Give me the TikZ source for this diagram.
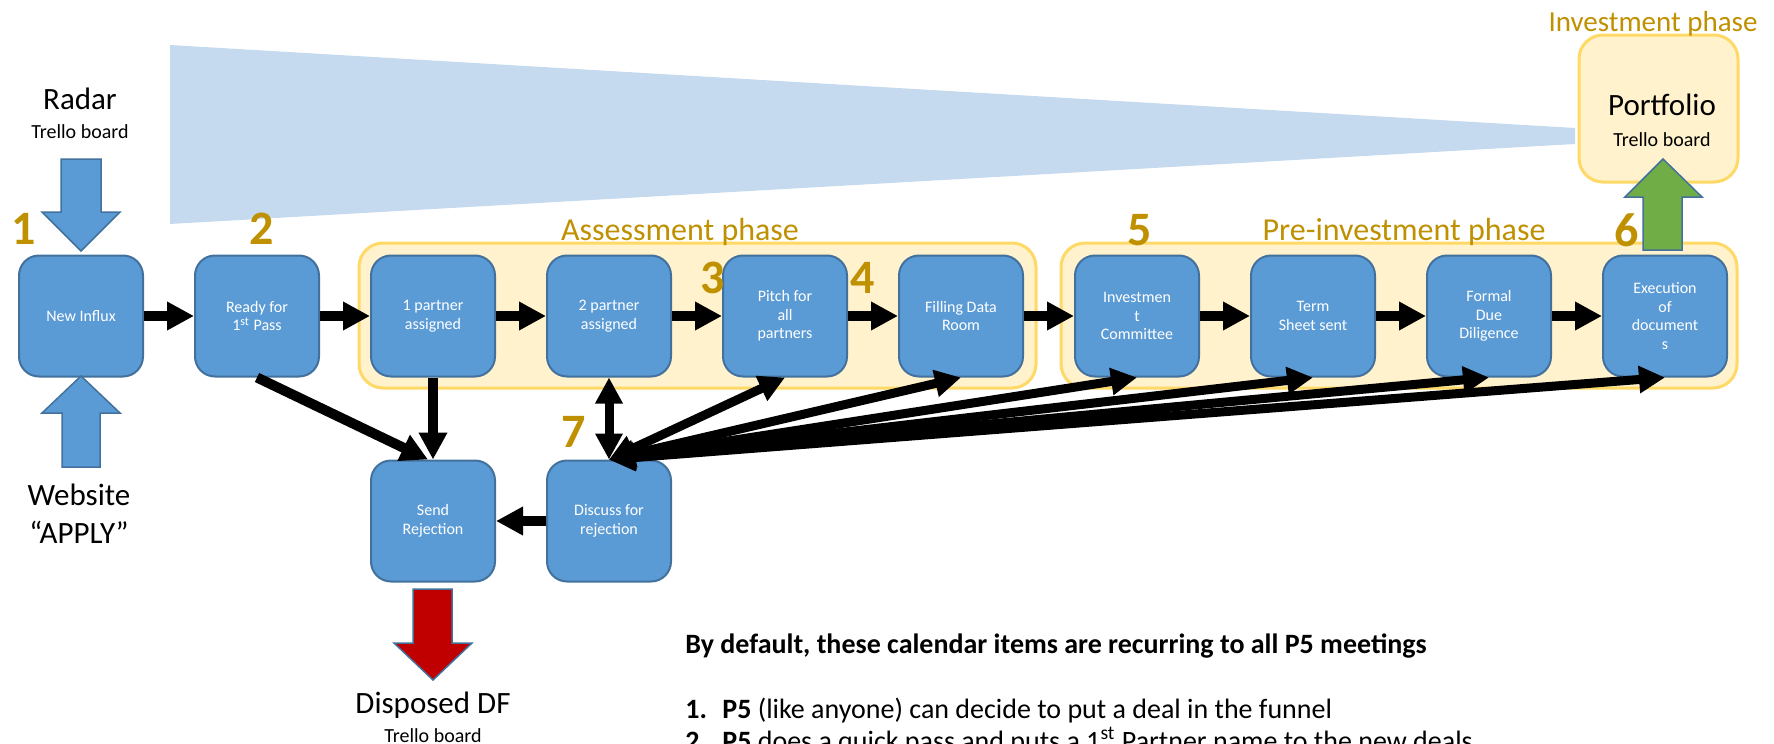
\documentclass[tikz,border=0pt]{standalone}
\usepackage{fontspec}
\setmainfont{Carlito}
\usetikzlibrary{arrows.meta}
\definecolor{boxfill}{HTML}{5B9BD5}
\definecolor{boxline}{HTML}{41719C}
\definecolor{grpfill}{HTML}{FFF2CC}
\definecolor{grpline}{HTML}{FFD966}
\definecolor{gold}{HTML}{BF9000}
\definecolor{funnelblue}{RGB}{197,218,238}
\definecolor{redfill}{HTML}{C00000}
\definecolor{greenfill}{HTML}{70AD47}
\begin{document}
\begin{tikzpicture}[x=0.5pt,y=-0.5pt,
  stage/.style={draw=boxline, fill=boxfill, line width=1pt, rounded corners=10pt,
    minimum width=62pt, minimum height=60.5pt, text=white,
    font=\fontsize{8}{9.3}\selectfont, align=center, inner sep=0pt},
  group/.style={draw=grpline, fill=grpfill, line width=1.5pt, rounded corners=12pt},
  num/.style={text=gold, font=\fontsize{24}{24}\bfseries\selectfont, inner sep=0pt},
  phase/.style={text=gold, font=\fontsize{16}{18}\selectfont, anchor=base, inner sep=0pt},
  big/.style={font=\fontsize{15.5}{18}\selectfont, anchor=base, inner sep=0pt},
  small/.style={font=\fontsize{10}{12}\selectfont, anchor=base, inner sep=0pt},
  blockarrow/.style={draw=boxline, line width=0.75pt},
  conn/.style={line width=5pt, -{Triangle[length=13.5pt,width=13.5pt]}},
  dconn/.style={line width=4.5pt, {Triangle[length=13pt,width=13pt]}-{Triangle[length=13pt,width=13pt]}},
  note/.style={font=\fontsize{14}{16}\selectfont, anchor=base west, inner sep=0pt},
  notebold/.style={note, font=\fontsize{14}{16}\bfseries\selectfont}
]
\useasboundingbox (0,0) rectangle (1774,744);
\clip (0,0) rectangle (1774,744);

% funnel
\fill[funnelblue] (170,45) -- (1575,128) -- (1575,144) -- (170,224) -- cycle;

% phase groups
\draw[group] (359,243) rectangle (1036,388);
\draw[group] (1061,243) rectangle (1737,388);
\node[phase] (lassess) at (680,240) {Assessment phase};
\node[phase] (lpre) at (1404,240) {Pre-investment phase};

% portfolio
\node[draw=grpline, fill=grpfill, line width=1.5pt, rounded corners=12pt,
  minimum width=79.5pt, minimum height=73.5pt, inner sep=0pt] (port) at (1658.5,108.5) {};
\node[big] (lport) at (1662,115) {Portfolio};
\node[small] (lporttb) at (1662,146) {Trello board};
\node[phase, font=\fontsize{14.5}{17}\selectfont] (linv) at (1653,32) {Investment phase};

% stages
\node[stage] (s1) at (81,316) {New Influx};
\node[stage] (s2) at (257,316) {Ready for\\1\textsuperscript{st} Pass};
\node[stage] (s3) at (433,316) {1 partner\\assigned};
\node[stage] (s4) at (609,316) {2 partner\\assigned};
\node[stage] (s5) at (785,316) {Pitch for\\all\\partners};
\node[stage] (s6) at (961,316) {Filling Data\\Room};
\node[stage] (s7) at (1137,316) {Investmen\\t\\Committee};
\node[stage] (s8) at (1313,316) {Term\\Sheet sent};
\node[stage] (s9) at (1489,316) {Formal\\Due\\Diligence};
\node[stage] (s10) at (1665,316) {Execution\\of\\document\\s};
\node[stage] (send) at (433,521) {Send\\Rejection};
\node[stage] (disc) at (609,521) {Discuss for\\rejection};

% numbers
\node[num] (n1) at (24,229) {1};
\node[num] (n2) at (262,229) {2};
\node[num] (n3) at (713,278) {3};
\node[num] (n4) at (863,278) {4};
\node[num] (n5) at (1140,230) {5};
\node[num] (n6) at (1627,230) {6};
\node[num] (n7) at (574,432) {7};

% block arrows
\draw[blockarrow, fill=boxfill] (61,159) -- (101,159) -- (101,212) -- (120,212) -- (81,251) -- (42,212) -- (61,212) -- cycle;
\draw[blockarrow, fill=boxfill] (62,467) -- (100,467) -- (100,413) -- (120,413) -- (81,376) -- (42,413) -- (62,413) -- cycle;
\draw[blockarrow, fill=redfill] (413,589) -- (452,589) -- (452,643) -- (472,643) -- (433,680) -- (394,643) -- (413,643) -- cycle;
\draw[blockarrow, fill=greenfill] (1643,250) -- (1682,250) -- (1682,197) -- (1702,197) -- (1663,159) -- (1625,197) -- (1643,197) -- cycle;

% side labels
\node[big] (lradar) at (80,109) {Radar};
\node[small] (lradartb) at (80,138) {Trello board};
\node[big] (lweb) at (79,505) {Website};
\node[big] (lapply) at (79,543) {“APPLY”};
\node[big] (ldisp) at (433,713) {Disposed DF};
\node[small] (ldisptb) at (433,742) {Trello board};

% main flow
\draw[conn] (s1) -- (s2);
\draw[conn] (s2) -- (s3);
\draw[conn] (s3) -- (s4);
\draw[conn] (s4) -- (s5);
\draw[conn] (s5) -- (s6);
\draw[conn] (s6) -- (s7);
\draw[conn] (s7) -- (s8);
\draw[conn] (s8) -- (s9);
\draw[conn] (s9) -- (s10);

% rejection flow
\draw[conn] (s2.south) -- ([xshift=-2.5pt]send.north);
\draw[conn] (s3.south) -- (send.north);
\draw[conn] (disc) -- (send);
\draw[dconn] (disc.north) -- (s4.south);
\draw[dconn] (disc.north) -- (s10.south);
\draw[dconn] (disc.north) -- (s9.south);
\draw[dconn] (disc.north) -- (s8.south);
\draw[dconn] (disc.north) -- (s7.south);
\draw[dconn] (disc.north) -- (s6.south);
\draw[dconn] (disc.north) -- (s5.south);

% notes
\node[notebold] (ntitle) at (685,653) {By default, these calendar items are recurring to all P5 meetings};
\node[notebold] (ni1) at (685,718) {1.};
\node[note] (nt1) at (722,718) {\textbf{P5} (like anyone) can decide to put a deal in the funnel};
\node[notebold] (ni2) at (685,750) {2.};
\node[note] (nt2) at (722,750) {\textbf{P5} does a quick pass and puts a 1\textsuperscript{st} Partner name to the new deals};
\end{tikzpicture}
\end{document}
